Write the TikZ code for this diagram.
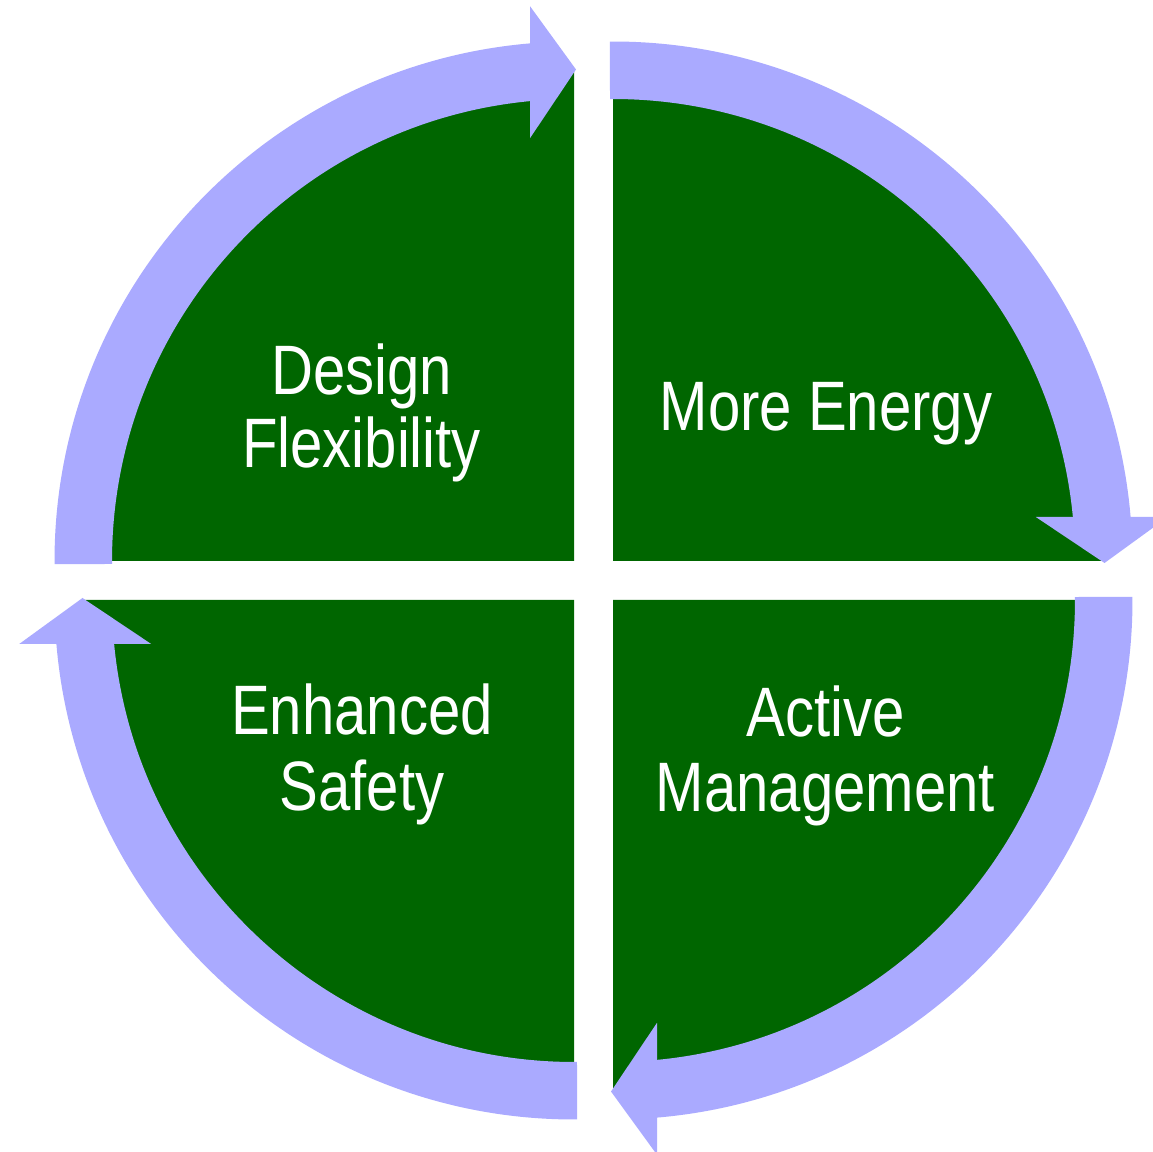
\documentclass[tikz,border=0pt]{standalone}
\usepackage{fontspec}
\newfontfamily\labelfont[FakeStretch=0.83]{Liberation Sans}
\definecolor{leaf}{HTML}{006600}
\definecolor{ring}{HTML}{AAAAFF}
\tikzset{
  lbl/.style={anchor=base, inner sep=0pt, text=white,
    font=\labelfont\fontsize{70}{#1}\selectfont},
  lbl/.default=72
}
\begin{document}
\begin{tikzpicture}[x=1pt,y=1pt]
\useasboundingbox (0,0) rectangle (1153,1151);
\clip (0,0) rectangle (1153,1151);
\coordinate (c) at (593.5,570.5);
% green quarter discs, one per quadrant
\foreach \rot in {0,90,180,270}{
  \begin{scope}[shift={(c)}, rotate=\rot, shift={(19.5,19.5)}]
    \fill[leaf] (0,0) -- (0:490) arc[start angle=0, end angle=90, radius=490] -- cycle;
  \end{scope}
}
% curved block arrows running clockwise round the circle
\foreach \rot in {0,90,180,270}{
  \begin{scope}[shift={(c)}, rotate=\rot, shift={(19.5,19.5)}]
    \fill[ring] (90.35:519.5) arc[start angle=90.35, end angle=4.86, radius=519.5]
      -- (5.47:462) arc[start angle=5.47, end angle=90.37, radius=462] -- cycle;
    \fill[ring] (422.8,44) -- (491.5,-2) -- (554.8,44) -- cycle;
  \end{scope}
}
% quadrant labels
\node[lbl=72] (design) at (361.5,756) {\begin{tabular}[t]{@{}c@{}}Design\\Flexibility\end{tabular}};
\node[lbl] (energy) at (826,720) {More Energy};
\node[lbl=75] (active) at (825.5,414) {\begin{tabular}[t]{@{}c@{}}Active\\Management\end{tabular}};
\node[lbl=76] (safety) at (362,416) {\begin{tabular}[t]{@{}c@{}}Enhanced\\Safety\end{tabular}};
\end{tikzpicture}
\end{document}
